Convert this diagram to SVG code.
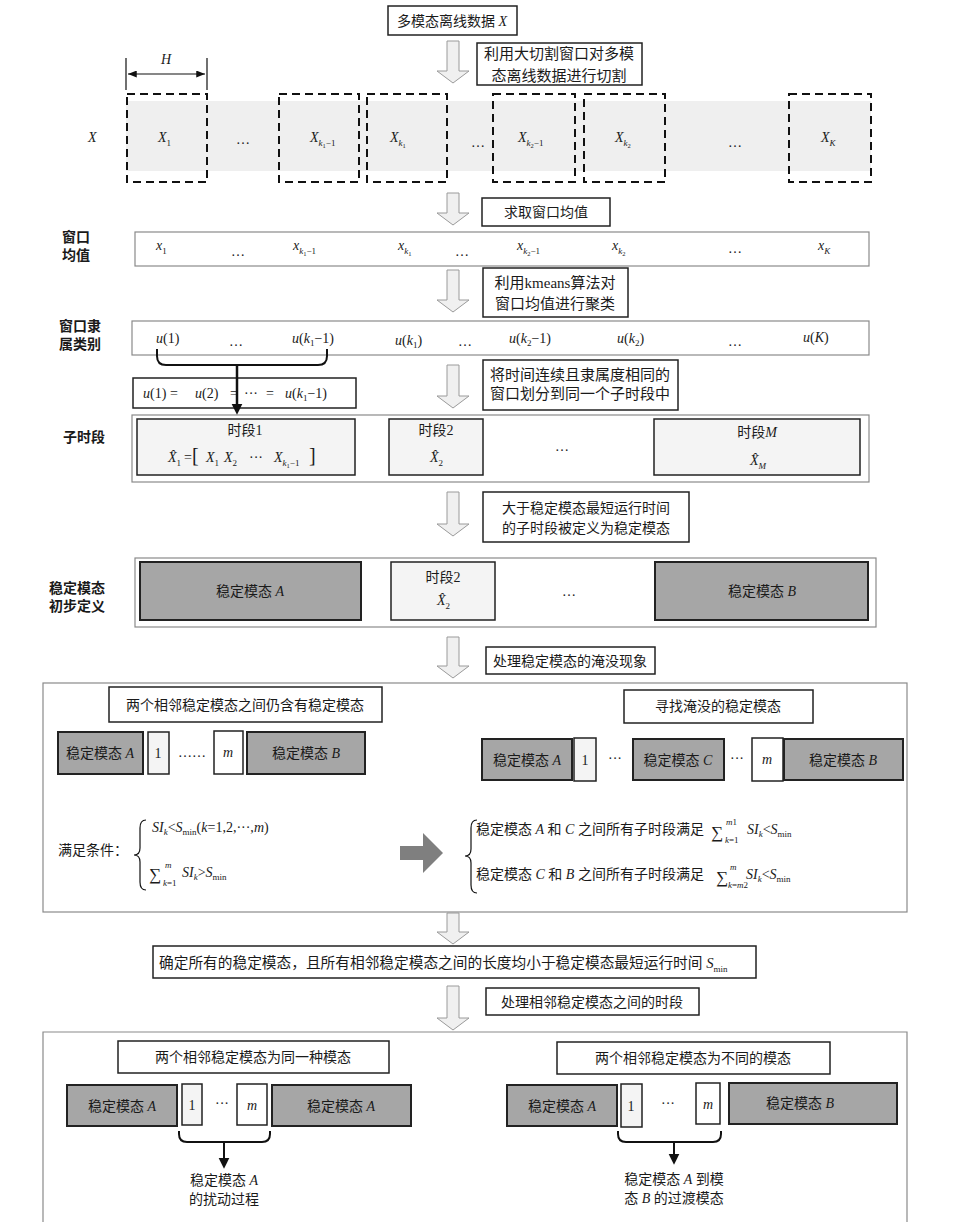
<svg xmlns="http://www.w3.org/2000/svg" width="962" height="1229" viewBox="0 0 962 1229">
<style>
text{font-family:"Liberation Serif","Noto Sans CJK SC",serif;font-size:14px;fill:#1a1a1a}
.i{font-style:italic}
.sub{font-size:9px}
.ss{font-size:6.5px}
.lbl{font-weight:bold}
.c{text-anchor:middle}
.box{fill:#fff;stroke:#222;stroke-width:1.5}
.row{fill:#fff;stroke:#8a8a8a;stroke-width:1.2}
.stable{fill:#a6a6a6;stroke:#222;stroke-width:2}
.light{fill:#f4f4f4;stroke:#222;stroke-width:1.5}
.white{fill:#fff;stroke:#222;stroke-width:1.5}
.dash{fill:none;stroke:#111;stroke-width:2;stroke-dasharray:8 5}
.hollow{fill:#f0f0f0;stroke:#9a9a9a;stroke-width:1}
.brace{fill:none;stroke:#111;stroke-width:2}
.thin{fill:none;stroke:#111;stroke-width:1.2}
</style>
<defs>
<marker id="ah" viewBox="0 0 12 12" refX="8" refY="6" markerWidth="11" markerHeight="12" orient="auto" markerUnits="userSpaceOnUse"><path d="M0,0 L12,6 L0,12 z" fill="#111"/></marker>
<marker id="dimA" viewBox="0 0 10 8" refX="10" refY="4" markerWidth="9" markerHeight="7" orient="auto-start-reverse" markerUnits="userSpaceOnUse"><path d="M0,0 L10,4 L0,8 z" fill="#111"/></marker>
</defs>

<!-- top data -->
<g id="data">
<rect class="box" x="388" y="6" width="129" height="29"/>
<text class="c" x="452" y="26">多模态离线数据 <tspan class="i">X</tspan></text>
</g>
<g id="step-cut">
<rect class="box" x="477" y="43" width="165" height="42"/>
<text class="c" x="559" y="59" style="font-size:15px">利用大切割窗口对多模</text>
<text class="c" x="559" y="81" style="font-size:15px">态离线数据进行切割</text>
</g>

<!-- windows -->
<g id="windows">
<rect x="126" y="101" width="745" height="70" fill="#efefef"/>
<line class="thin" x1="126" y1="58" x2="126" y2="90"/>
<line class="thin" x1="207" y1="58" x2="207" y2="90"/>
<text class="i c" x="166" y="64">H</text>
<text class="i" x="88" y="142">X</text>
<rect class="dash" x="127" y="94" width="80" height="88"/>
<rect class="dash" x="279" y="94" width="80" height="88"/>
<rect class="dash" x="367" y="94" width="80" height="88"/>
<rect class="dash" x="493" y="94" width="82" height="88"/>
<rect class="dash" x="584" y="94" width="81" height="88"/>
<rect class="dash" x="789" y="94" width="82" height="88"/>
<text x="158" y="142"><tspan class="i">X</tspan><tspan class="sub" dy="4">1</tspan></text>
<text class="c" x="243" y="144">…</text>
<text x="310" y="142"><tspan class="i">X</tspan><tspan class="sub i" dy="4">k</tspan><tspan class="ss" dy="2">1</tspan><tspan class="sub" dy="-2">−1</tspan></text>
<text x="390" y="142"><tspan class="i">X</tspan><tspan class="sub i" dy="4">k</tspan><tspan class="ss" dy="2">1</tspan></text>
<text class="c" x="478" y="147">…</text>
<text x="518" y="142"><tspan class="i">X</tspan><tspan class="sub i" dy="4">k</tspan><tspan class="ss" dy="2">2</tspan><tspan class="sub" dy="-2">−1</tspan></text>
<text x="615" y="142"><tspan class="i">X</tspan><tspan class="sub i" dy="4">k</tspan><tspan class="ss" dy="2">2</tspan></text>
<text class="c" x="735" y="147">…</text>
<text x="821" y="142"><tspan class="i">X</tspan><tspan class="sub i" dy="4">K</tspan></text>
</g>

<g id="step-mean">
<rect class="box" x="482" y="198" width="128" height="28"/>
<text class="c" x="546" y="217">求取窗口均值</text>
</g>

<g id="means">
<text class="lbl c" x="76" y="242">窗口</text>
<text class="lbl c" x="76" y="260">均值</text>
<rect class="row" x="135" y="232" width="734" height="34"/>
<text x="156" y="250"><tspan class="i">x</tspan><tspan class="sub" dy="4">1</tspan></text>
<text class="c" x="238" y="256">…</text>
<text x="293" y="250"><tspan class="i">x</tspan><tspan class="sub i" dy="4">k</tspan><tspan class="ss" dy="2">1</tspan><tspan class="sub" dy="-2">−1</tspan></text>
<text x="398" y="250"><tspan class="i">x</tspan><tspan class="sub i" dy="4">k</tspan><tspan class="ss" dy="2">1</tspan></text>
<text class="c" x="462" y="256">…</text>
<text x="517" y="250"><tspan class="i">x</tspan><tspan class="sub i" dy="4">k</tspan><tspan class="ss" dy="2">2</tspan><tspan class="sub" dy="-2">−1</tspan></text>
<text x="612" y="250"><tspan class="i">x</tspan><tspan class="sub i" dy="4">k</tspan><tspan class="ss" dy="2">2</tspan></text>
<text class="c" x="735" y="253">…</text>
<text x="818" y="250"><tspan class="i">x</tspan><tspan class="sub i" dy="4">K</tspan></text>
</g>

<g id="step-kmeans">
<rect class="box" x="483" y="268" width="145" height="49"/>
<text class="c" x="555" y="288" style="font-size:15px">利用kmeans算法对</text>
<text class="c" x="555" y="309" style="font-size:15px">窗口均值进行聚类</text>
</g>

<g id="membership">
<text class="lbl c" x="80" y="331">窗口隶</text>
<text class="lbl c" x="80" y="349">属类别</text>
<rect class="row" x="132" y="321" width="737" height="34"/>
<text x="156" y="343"><tspan class="i">u</tspan>(1)</text>
<text class="c" x="236" y="346">…</text>
<text x="292" y="343"><tspan class="i">u</tspan>(<tspan class="i">k</tspan><tspan class="sub" dy="3">1</tspan><tspan dy="-3">−1)</tspan></text>
<text x="395" y="345"><tspan class="i">u</tspan>(<tspan class="i">k</tspan><tspan class="sub" dy="3">1</tspan><tspan dy="-3">)</tspan></text>
<text class="c" x="465" y="346">…</text>
<text x="509" y="343"><tspan class="i">u</tspan>(<tspan class="i">k</tspan><tspan class="sub" dy="3">2</tspan><tspan dy="-3">−1)</tspan></text>
<text x="617" y="343"><tspan class="i">u</tspan>(<tspan class="i">k</tspan><tspan class="sub" dy="3">2</tspan><tspan dy="-3">)</tspan></text>
<text class="c" x="735" y="346">…</text>
<text x="803" y="342"><tspan class="i">u</tspan>(<tspan class="i">K</tspan>)</text>
</g>

<g id="equal-box">
<rect class="box" x="133" y="378" width="223" height="30"/>
<text y="398"><tspan x="143" class="i">u</tspan>(1)<tspan x="170">=</tspan><tspan x="195" class="i">u</tspan>(2)<tspan x="230">=</tspan><tspan x="244">···</tspan><tspan x="266">=</tspan><tspan x="285" class="i">u</tspan>(<tspan class="i">k</tspan><tspan class="sub" dy="3">1</tspan><tspan dy="-3">−1)</tspan></text>
</g>

<g id="step-split">
<rect class="box" x="483" y="360" width="195" height="50"/>
<text class="c" x="580" y="380" style="font-size:15px">将时间连续且隶属度相同的</text>
<text class="c" x="580" y="399" style="font-size:15px">窗口划分到同一个子时段中</text>
</g>

<g id="subperiods">
<text class="lbl c" x="84" y="442">子时段</text>
<rect class="row" x="132" y="415" width="737" height="67"/>
<rect class="light" x="137" y="419" width="218" height="56"/>
<text class="c" x="245" y="435">时段1</text>
<text y="462"><tspan x="168" class="i">X̂</tspan><tspan class="sub" dy="4">1</tspan><tspan x="184" dy="-4">=</tspan><tspan x="192" style="font-size:20px">[</tspan><tspan x="206" class="i">X</tspan><tspan class="sub" dy="4">1</tspan><tspan x="224" dy="-4" class="i">X</tspan><tspan class="sub" dy="4">2</tspan><tspan x="249" dy="-4">···</tspan><tspan x="274" class="i">X</tspan><tspan class="sub i" dy="4">k</tspan><tspan class="ss" dy="2">1</tspan><tspan class="sub" dy="-2">−1</tspan><tspan x="309" dy="-4" style="font-size:20px">]</tspan></text>
<rect class="light" x="389" y="419" width="94" height="56"/>
<text class="c" x="436" y="435">时段2</text>
<text x="430" y="462"><tspan class="i">X̂</tspan><tspan class="sub" dy="4">2</tspan></text>
<text class="c" x="562" y="451">…</text>
<rect class="light" x="654" y="419" width="206" height="56"/>
<text class="c" x="757" y="437">时段<tspan class="i">M</tspan></text>
<text x="750" y="465"><tspan class="i">X̂</tspan><tspan class="sub i" dy="4">M</tspan></text>
</g>

<g id="step-define">
<rect class="box" x="483" y="492" width="206" height="50"/>
<text class="c" x="586" y="513">大于稳定模态最短运行时间</text>
<text class="c" x="586" y="533">的子时段被定义为稳定模态</text>
</g>

<g id="initial-stable">
<text class="lbl c" x="77" y="593">稳定模态</text>
<text class="lbl c" x="77" y="611">初步定义</text>
<rect class="row" x="135" y="558" width="741" height="69"/>
<rect class="stable" x="140" y="562" width="221" height="58"/>
<text class="c" x="250" y="596">稳定模态 <tspan class="i">A</tspan></text>
<rect class="light" x="391" y="562" width="104" height="58"/>
<text class="c" x="443" y="582">时段2</text>
<text x="437" y="605"><tspan class="i">X̂</tspan><tspan class="sub" dy="4">2</tspan></text>
<text class="c" x="569" y="596">…</text>
<rect class="stable" x="655" y="562" width="213" height="58"/>
<text class="c" x="762" y="596">稳定模态 <tspan class="i">B</tspan></text>
</g>

<g id="step-submerge">
<rect class="box" x="486" y="647" width="169" height="27"/>
<text class="c" x="570" y="666">处理稳定模态的淹没现象</text>
</g>

<g id="submerge-panel">
<rect class="row" x="43" y="683" width="864" height="229"/>
<rect class="box" x="109" y="687" width="273" height="35"/>
<text class="c" x="245" y="710">两个相邻稳定模态之间仍含有稳定模态</text>
<rect class="stable" x="58" y="732" width="85" height="42"/>
<text class="c" x="100" y="758">稳定模态 <tspan class="i">A</tspan></text>
<rect class="light" x="148" y="732" width="21" height="42"/>
<text class="c" x="158" y="758">1</text>
<text class="c" x="192" y="757">……</text>
<rect class="white" x="214" y="731" width="29" height="43"/>
<text class="c i" x="228" y="757">m</text>
<rect class="stable" x="247" y="732" width="118" height="42"/>
<text class="c" x="306" y="758">稳定模态 <tspan class="i">B</tspan></text>

<text x="58" y="855">满足条件：</text>
<path class="thin" d="M146,820 Q140,820 140,828 V848 Q140,855 134,855 Q140,855 140,862 V882 Q140,890 146,890"/>
<text x="152" y="832"><tspan class="i">SI</tspan><tspan class="sub i" dy="3">k</tspan><tspan dy="-3">&lt;</tspan><tspan class="i">S</tspan><tspan class="sub" dy="3">min</tspan><tspan dy="-3">(</tspan><tspan class="i">k</tspan>=1,2,···,<tspan class="i">m</tspan>)</text>
<text y="880"><tspan x="149" style="font-size:17px">∑</tspan><tspan x="165" y="868" class="sub i">m</tspan><tspan x="163" y="886" class="sub i">k</tspan><tspan class="sub">=1</tspan><tspan x="182" y="877" class="i">SI</tspan><tspan class="sub i" dy="3">k</tspan><tspan dy="-3">&gt;</tspan><tspan class="i">S</tspan><tspan class="sub" dy="3">min</tspan></text>

<path d="M400,846 H423 V833 L443,853 L423,873 V860 H400 Z" fill="#7f7f7f"/>

<rect class="box" x="624" y="690" width="189" height="33"/>
<text class="c" x="718" y="711">寻找淹没的稳定模态</text>
<rect class="stable" x="482" y="739" width="90" height="41"/>
<text class="c" x="527" y="765">稳定模态 <tspan class="i">A</tspan></text>
<rect class="light" x="574" y="738" width="22" height="43"/>
<text class="c" x="585" y="765">1</text>
<text class="c" x="615" y="763">···</text>
<rect class="stable" x="633" y="739" width="91" height="41"/>
<text class="c" x="678" y="765">稳定模态 <tspan class="i">C</tspan></text>
<text class="c" x="737" y="763">···</text>
<rect class="white" x="752" y="738" width="31" height="43"/>
<text class="c i" x="767" y="764">m</text>
<rect class="stable" x="784" y="739" width="119" height="41"/>
<text class="c" x="843" y="765">稳定模态 <tspan class="i">B</tspan></text>

<path class="thin" d="M477,820 Q471,820 471,828 V849 Q471,856 465,856 Q471,856 471,863 V885 Q471,893 477,893"/>
<text y="834"><tspan x="476">稳定模态 </tspan><tspan class="i">A</tspan> 和 <tspan class="i">C</tspan> 之间所有子时段满足<tspan x="711" y="838" style="font-size:17px">∑</tspan><tspan x="726" y="825" class="sub i">m</tspan><tspan class="sub">1</tspan><tspan x="725" y="843" class="sub i">k</tspan><tspan class="sub">=1</tspan><tspan x="747" y="834" class="i">SI</tspan><tspan class="sub i" dy="3">k</tspan><tspan dy="-3">&lt;</tspan><tspan class="i">S</tspan><tspan class="sub" dy="3">min</tspan></text>
<text y="879"><tspan x="476">稳定模态 </tspan><tspan class="i">C</tspan> 和 <tspan class="i">B</tspan> 之间所有子时段满足<tspan x="716" y="883" style="font-size:17px">∑</tspan><tspan x="730" y="870" class="sub i">m</tspan><tspan x="728" y="888" class="sub i">k</tspan><tspan class="sub">=</tspan><tspan class="sub i">m</tspan><tspan class="sub">2</tspan><tspan x="746" y="879" class="i">SI</tspan><tspan class="sub i" dy="3">k</tspan><tspan dy="-3">&lt;</tspan><tspan class="i">S</tspan><tspan class="sub" dy="3">min</tspan></text>
</g>

<g id="all-stable">
<rect class="box" x="153" y="946" width="603" height="32"/>
<text x="159" y="968" style="font-size:14.7px">确定所有的稳定模态，且所有相邻稳定模态之间的长度均小于稳定模态最短运行时间 <tspan class="i">S</tspan><tspan class="sub" dy="4">min</tspan></text>
</g>

<g id="step-between">
<rect class="box" x="486" y="988" width="213" height="27"/>
<text class="c" x="592" y="1007">处理相邻稳定模态之间的时段</text>
</g>

<g id="between-panel">
<path class="row" style="fill:none" d="M43,1222 V1032 H907 V1222"/>
<rect class="box" x="118" y="1041" width="271" height="32"/>
<text class="c" x="253" y="1062">两个相邻稳定模态为同一种模态</text>
<rect class="stable" x="67" y="1085" width="110" height="41"/>
<text class="c" x="122" y="1111">稳定模态 <tspan class="i">A</tspan></text>
<rect class="light" x="182" y="1084" width="20" height="41"/>
<text class="c" x="192" y="1110">1</text>
<text class="c" x="222" y="1108">···</text>
<rect class="white" x="237" y="1084" width="30" height="41"/>
<text class="c i" x="252" y="1110">m</text>
<rect class="stable" x="272" y="1085" width="139" height="41"/>
<text class="c" x="341" y="1111">稳定模态 <tspan class="i">A</tspan></text>
<text class="c" x="224" y="1185">稳定模态 <tspan class="i">A</tspan></text>
<text class="c" x="224" y="1204">的扰动过程</text>

<rect class="box" x="557" y="1042" width="273" height="32"/>
<text class="c" x="693" y="1063">两个相邻稳定模态为不同的模态</text>
<rect class="stable" x="507" y="1085" width="110" height="41"/>
<text class="c" x="562" y="1111">稳定模态 <tspan class="i">A</tspan></text>
<rect class="light" x="621" y="1084" width="21" height="43"/>
<text class="c" x="631" y="1111">1</text>
<text class="c" x="668" y="1108">···</text>
<rect class="white" x="696" y="1083" width="24" height="41"/>
<text class="c i" x="708" y="1109">m</text>
<rect class="stable" x="729" y="1083" width="168" height="41"/>
<text class="c" x="800" y="1108">稳定模态 <tspan class="i">B</tspan></text>
<text class="c" x="674" y="1184">稳定模态 <tspan class="i">A</tspan> 到模</text>
<text class="c" x="674" y="1203">态 <tspan class="i">B</tspan> 的过渡模态</text>
</g>

<g id="connectors">
<path class="hollow" d="M447,41 H459 V71 H469 L453,83 L437,71 H447 Z"/>
<path class="hollow" d="M447,193 H459 V213 H469 L453,225 L437,213 H447 Z"/>
<path class="hollow" d="M447,270 H459 V300 H469 L453,312 L437,300 H447 Z"/>
<path class="hollow" d="M447,365 H459 V396 H469 L453,408 L437,396 H447 Z"/>
<path class="hollow" d="M447,492 H459 V524 H469 L453,536 L437,524 H447 Z"/>
<path class="hollow" d="M447,637 H459 V666 H469 L453,678 L437,666 H447 Z"/>
<path class="hollow" d="M447,913 H459 V932 H469 L453,944 L437,932 H447 Z"/>
<path class="hollow" d="M447,986 H459 V1018 H469 L453,1030 L437,1018 H447 Z"/>
<line class="thin" x1="128" y1="74" x2="205" y2="74" marker-start="url(#dimA)" marker-end="url(#dimA)"/>
<path class="brace" d="M157,349 V356 Q157,365 166,365 H318 Q327,365 327,356 V349"/>
<line x1="237" y1="365" x2="237" y2="411" stroke="#111" stroke-width="2.5" marker-end="url(#ah)"/>
<path class="brace" d="M179,1131 V1134 Q179,1142 187,1142 H262 Q270,1142 270,1134 V1131"/>
<line x1="224" y1="1142" x2="224" y2="1165" stroke="#111" stroke-width="2" marker-end="url(#ah)"/>
<path class="brace" d="M618,1131 V1134 Q618,1142 626,1142 H713 Q721,1142 721,1134 V1131"/>
<line x1="674" y1="1142" x2="674" y2="1161" stroke="#111" stroke-width="2" marker-end="url(#ah)"/>
</g>
</svg>
